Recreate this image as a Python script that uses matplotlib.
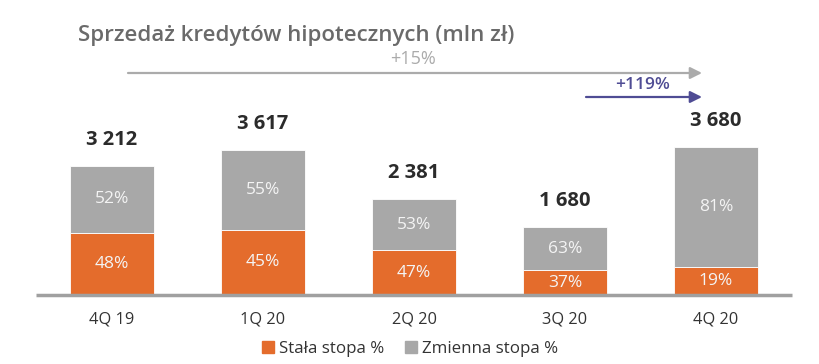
import matplotlib
matplotlib.use("Agg")
import matplotlib.pyplot as plt
from matplotlib.patches import Patch

# ── data ──
quarters = ["4Q 19", "1Q 20", "2Q 20", "3Q 20", "4Q 20"]
totals = [3212, 3617, 2381, 1680, 3680]
fixed_pct = [48, 45, 47, 37, 19]
variable_pct = [52, 55, 53, 63, 81]
total_labels = ["3 212", "3 617", "2 381", "1 680", "3 680"]

ORANGE = "#E46C2C"
GRAY = "#A8A8A8"
PURPLE = "#4F4C94"

plt.rcParams["font.family"] = ["Open Sans", "DejaVu Sans"]

W, H = 820, 364
fig = plt.figure(figsize=(W / 100, H / 100), dpi=100)

# axes spans the baseline line (px 36..792), baseline at y=295 px
base_px = 295
ax = fig.add_axes([36 / W, (H - base_px) / H, 756 / W, base_px / H])
px_per_unit = 0.0402
ax.set_xlim(-76 / 151, 4 + 76 / 151)
ax.set_ylim(0, base_px / px_per_unit)
ax.axis("off")


def px_to_data(x, y):
    return (x - 112) / 151, (base_px - y) / px_per_unit


x = range(len(quarters))
fixed = [t * p / 100 for t, p in zip(totals, fixed_pct)]
var = [t * p / 100 for t, p in zip(totals, variable_pct)]
bw = 84 / 151
ax.bar(x, fixed, width=bw, color=ORANGE, edgecolor="white", linewidth=0.6)
ax.bar(x, var, bottom=fixed, width=bw, color=GRAY, edgecolor="white", linewidth=0.6)

for i in x:
    ax.text(i, fixed[i] / 2, f"{fixed_pct[i]}%", ha="center", va="center",
            color="#F4F4F4", fontsize=12.5)
    ax.text(i, fixed[i] + var[i] / 2, f"{variable_pct[i]}%", ha="center",
            va="center", color="#F4F4F4", fontsize=12.5)
    ax.text(i, totals[i] + 26 / px_per_unit, total_labels[i], ha="center",
            va="center", color="#2B2B2B", fontsize=14.5, fontweight="bold")
    ax.text(i, -25 / px_per_unit, quarters[i], ha="center", va="center",
            color="#333333", fontsize=11.8, clip_on=False)

# baseline
ax.plot([-76 / 151, 4 + 76 / 151], [0, 0], color="#A0A0A0", lw=2.5,
        solid_capstyle="butt", clip_on=False)

# growth arrows
x0, y0 = px_to_data(128, 73)
x1, _ = px_to_data(702, 73)
ax.annotate("", xy=(x1, y0), xytext=(x0, y0),
            arrowprops=dict(arrowstyle="-|>,head_length=0.7,head_width=0.35",
                            color="#ABABAB", lw=1.6, shrinkA=0, shrinkB=0),
            annotation_clip=False)
lx, ly = px_to_data(413, 59)
ax.text(lx, ly, "+15%", ha="center", va="center", color="#ABABAB", fontsize=13)

x0, y0 = px_to_data(586, 97)
x1, _ = px_to_data(702, 97)
ax.annotate("", xy=(x1, y0), xytext=(x0, y0),
            arrowprops=dict(arrowstyle="-|>,head_length=0.7,head_width=0.35",
                            color=PURPLE, lw=1.6, shrinkA=0, shrinkB=0),
            annotation_clip=False)
lx, ly = px_to_data(643, 85)
ax.text(lx, ly, "+119%", ha="center", va="center", color=PURPLE, fontsize=12.5,
        fontweight="semibold")

fig.text(78 / W, 1 - 35 / H, "Sprzedaż kredytów hipotecznych (mln zł)",
         ha="left", va="center", color="#6A6A6A", fontsize=16,
         fontweight="semibold")

handles = [Patch(color=ORANGE), Patch(color=GRAY)]
fig.legend(handles, ["Stała stopa %", "Zmienna stopa %"], loc="center",
           bbox_to_anchor=(410 / W, 1 - 349 / H), ncol=2, frameon=False,
           fontsize=12.2, handlelength=0.7, handleheight=0.7,
           handletextpad=0.3, columnspacing=1.2, labelcolor="#333333")

fig.savefig("out.png", dpi=100)
